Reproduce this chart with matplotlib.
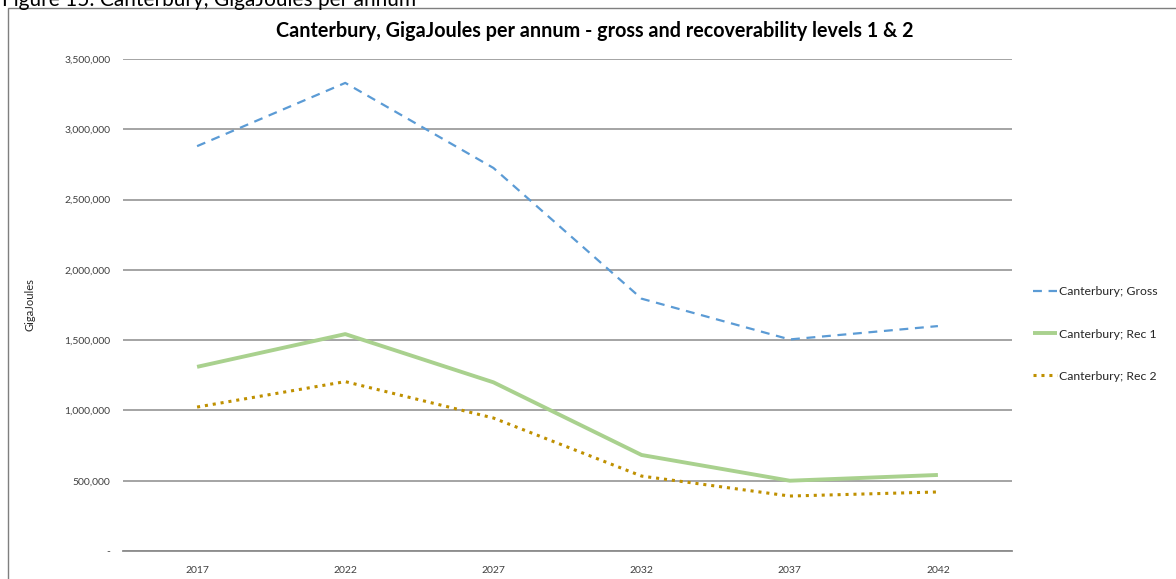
import numpy as np
import matplotlib.pyplot as plt
from matplotlib.patches import Rectangle
from matplotlib.ticker import FuncFormatter

years = ['2017', '2022', '2027', '2032', '2037', '2042']
gross = [2880000, 3330000, 2725000, 1795000, 1505000, 1600000]
rec1 = [1310000, 1543000, 1200000, 683000, 500000, 541000]
rec2 = [1024000, 1205000, 946000, 533000, 391000, 420000]

plt.rcParams['font.family'] = ['Lato', 'DejaVu Sans']

W, H = 1176, 579
fig = plt.figure(figsize=(W / 100, H / 100), dpi=100)

# document frame around the chart
fig.patches.append(Rectangle((8 / W, -0.1), 1.2, (H - 8) / H + 0.1, transform=fig.transFigure,
                             fill=False, edgecolor='#7f7f7f', linewidth=1.0))
fig.text(2 / W, 1 - 6 / H, 'Figure 15: Canterbury, GigaJoules per annum', fontsize=15,
         color='black', ha='left', va='baseline')

ax = fig.add_axes([123 / W, 1 - 551 / H, (1012 - 123) / W, (551 - 59) / H])
x = np.arange(len(years))

ax.plot(x, gross, color='#5B9BD5', lw=1.6, linestyle=(0, (4, 3)), label='Canterbury; Gross')
ax.plot(x, rec1, color='#A9D18E', lw=2.8, label='Canterbury; Rec 1', solid_capstyle='butt')
ax.plot(x, rec2, color='#BF9000', lw=2.2, linestyle=(0, (1, 1.6)), label='Canterbury; Rec 2')

ax.set_xlim(-0.5, len(years) - 0.5)
ax.set_ylim(0, 3500000)
ax.set_yticks(np.arange(0, 3500001, 500000))
ax.yaxis.set_major_formatter(FuncFormatter(lambda v, p: '-' if v == 0 else f'{int(v):,}'))
ax.set_xticks(x)
ax.set_xticklabels(years, fontfamily=['Liberation Sans Narrow', 'DejaVu Sans Condensed', 'Lato'],
                   fontsize=8)
ax.grid(axis='y', color='#8c8c8c', lw=1.1)
ax.set_axisbelow(True)
for s in ['top', 'right', 'left']:
    ax.spines[s].set_visible(False)
ax.spines['bottom'].set_color('#8c8c8c')
ax.spines['bottom'].set_linewidth(1.3)
ax.tick_params(axis='both', length=0, labelsize=7.5, colors='#404040')
ax.tick_params(axis='y', pad=9)
ax.tick_params(axis='x', pad=11)

fig.text(30 / W, 1 - 305 / H, 'GigaJoules', rotation=90, ha='center', va='center',
         fontsize=8, color='#262626')

fig.text(595 / W, 1 - 31 / H, 'Canterbury, GigaJoules per annum - gross and recoverability levels 1 & 2',
         ha='center', va='center', fontsize=14.2, fontweight='bold', color='black')

ax.legend(loc='center left', bbox_to_anchor=(1022 / W, 1 - 334 / H), bbox_transform=fig.transFigure,
          frameon=False, fontsize=8.8, handlelength=2.0, handletextpad=0.1, labelspacing=2.55,
          labelcolor='#262626')

fig.savefig('out.png', dpi=100)
